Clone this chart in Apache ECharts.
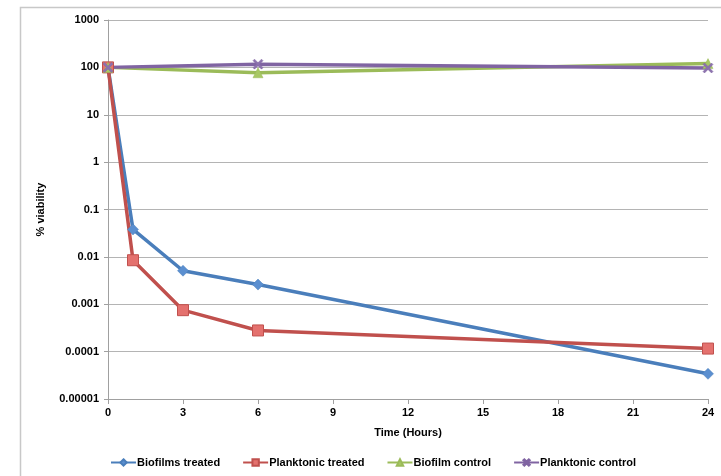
<!DOCTYPE html>
<html>
<head>
<meta charset="utf-8">
<script src="https://cdn.jsdelivr.net/npm/echarts@6/dist/echarts.min.js"></script>
<style>html,body{margin:0;padding:0;background:#fff}#c{width:721px;height:476px}</style>
</head>
<body>
<div id="c"></div>
<script>
var hours = [0, 1, 3, 6, 24];
var controlHours = [0, 6, 24];
var biofilmsTreated = [100, 0.038, 0.0051, 0.0026, 0.000034];
var planktonicTreated = [100, 0.0085, 0.00075, 0.00028, 0.000116];
var biofilmControl = [100, 77, 120];
var planktonicControl = [100, 117, 97];
var yTickLabels = ['0.00001', '0.0001', '0.001', '0.01', '0.1', '1', '10', '100', '1000'];
var xTicks = [0, 3, 6, 9, 12, 15, 18, 21, 24];

function pairs(xs, ys) { return xs.map(function (x, i) { return [x, ys[i]]; }); }

var font = 'Liberation Sans, Arial, sans-serif';
var crossPath = 'path://M0,1.5L1.5,0L5,3.5L8.5,0L10,1.5L6.5,5L10,8.5L8.5,10L5,6.5L1.5,10L0,8.5L3.5,5Z';

var chart = echarts.init(document.getElementById('c'));
chart.setOption({
  animation: false,
  backgroundColor: '#fff',
  graphic: [{
    type: 'rect', left: 18, top: 5, z: -1,
    shape: { x: 0, y: 0, width: 800, height: 600 },
    style: { fill: 'none', stroke: '#c8c8c8', lineWidth: 1.5 }
  }],
  grid: { left: 108, right: 13, top: 20, bottom: 77, containLabel: false },
  legend: {
    left: 110, top: 457, padding: 0,
    itemWidth: 25, itemHeight: 8, itemGap: 22,
    textStyle: { fontFamily: font, fontSize: 11, fontWeight: 'bold', color: '#000', padding: [0, 0, 0, -4] },
    data: ['Biofilms treated', 'Planktonic treated', 'Biofilm control', 'Planktonic control']
  },
  xAxis: {
    type: 'value', min: 0, max: 24, interval: 3,
    name: 'Time (Hours)', nameLocation: 'middle', nameGap: 28,
    nameTextStyle: { fontFamily: font, fontSize: 11, fontWeight: 'bold', color: '#000' },
    axisLine: { lineStyle: { color: '#a0a0a0', width: 1 } },
    axisTick: { show: true, length: 5, lineStyle: { color: '#a0a0a0' } },
    axisLabel: {
      margin: 8, fontFamily: font, fontSize: 11, fontWeight: 'bold', color: '#000',
      formatter: function (v) { return xTicks.indexOf(v) >= 0 ? String(v) : ''; }
    },
    splitLine: { show: false }
  },
  yAxis: {
    type: 'log', logBase: 10, min: 0.00001, max: 1000,
    name: '% viability', nameLocation: 'middle', nameGap: 62,
    nameTextStyle: { fontFamily: font, fontSize: 11, fontWeight: 'bold', color: '#000' },
    axisLine: { show: true, lineStyle: { color: '#a0a0a0', width: 1 } },
    axisTick: { show: true, length: 4, lineStyle: { color: '#a0a0a0' } },
    axisLabel: {
      margin: 9, fontFamily: font, fontSize: 11, fontWeight: 'bold', color: '#000',
      formatter: function (v) {
        var e = Math.round(Math.log10(v));
        return yTickLabels[e + 5] || '';
      }
    },
    splitLine: { show: true, lineStyle: { color: '#b4b4b4', width: 1 } }
  },
  series: [
    {
      name: 'Biofilms treated', type: 'line', data: pairs(hours, biofilmsTreated),
      symbol: 'diamond', symbolSize: 11,
      lineStyle: { color: '#4A7EBB', width: 3.5 },
      itemStyle: { color: '#5B8FD0', borderColor: '#4A7EBB', borderWidth: 0.5 }
    },
    {
      name: 'Planktonic treated', type: 'line', data: pairs(hours, planktonicTreated),
      symbol: 'rect', symbolSize: 11,
      lineStyle: { color: '#C0504D', width: 3.5 },
      itemStyle: { color: '#E4716E', borderColor: '#C0504D', borderWidth: 1 }
    },
    {
      name: 'Biofilm control', type: 'line', data: pairs(controlHours, biofilmControl),
      symbol: 'triangle', symbolSize: 10,
      lineStyle: { color: '#9BBB59', width: 3.5 },
      itemStyle: { color: '#A8C864', borderColor: '#9BBB59', borderWidth: 0.5 }
    },
    {
      name: 'Planktonic control', type: 'line', data: pairs(controlHours, planktonicControl),
      symbol: crossPath, symbolSize: 10,
      lineStyle: { color: '#8064A2', width: 3.5 },
      itemStyle: { color: '#8C72AE', borderColor: '#8064A2', borderWidth: 0.5 }
    }
  ]
});
</script>
</body>
</html>
